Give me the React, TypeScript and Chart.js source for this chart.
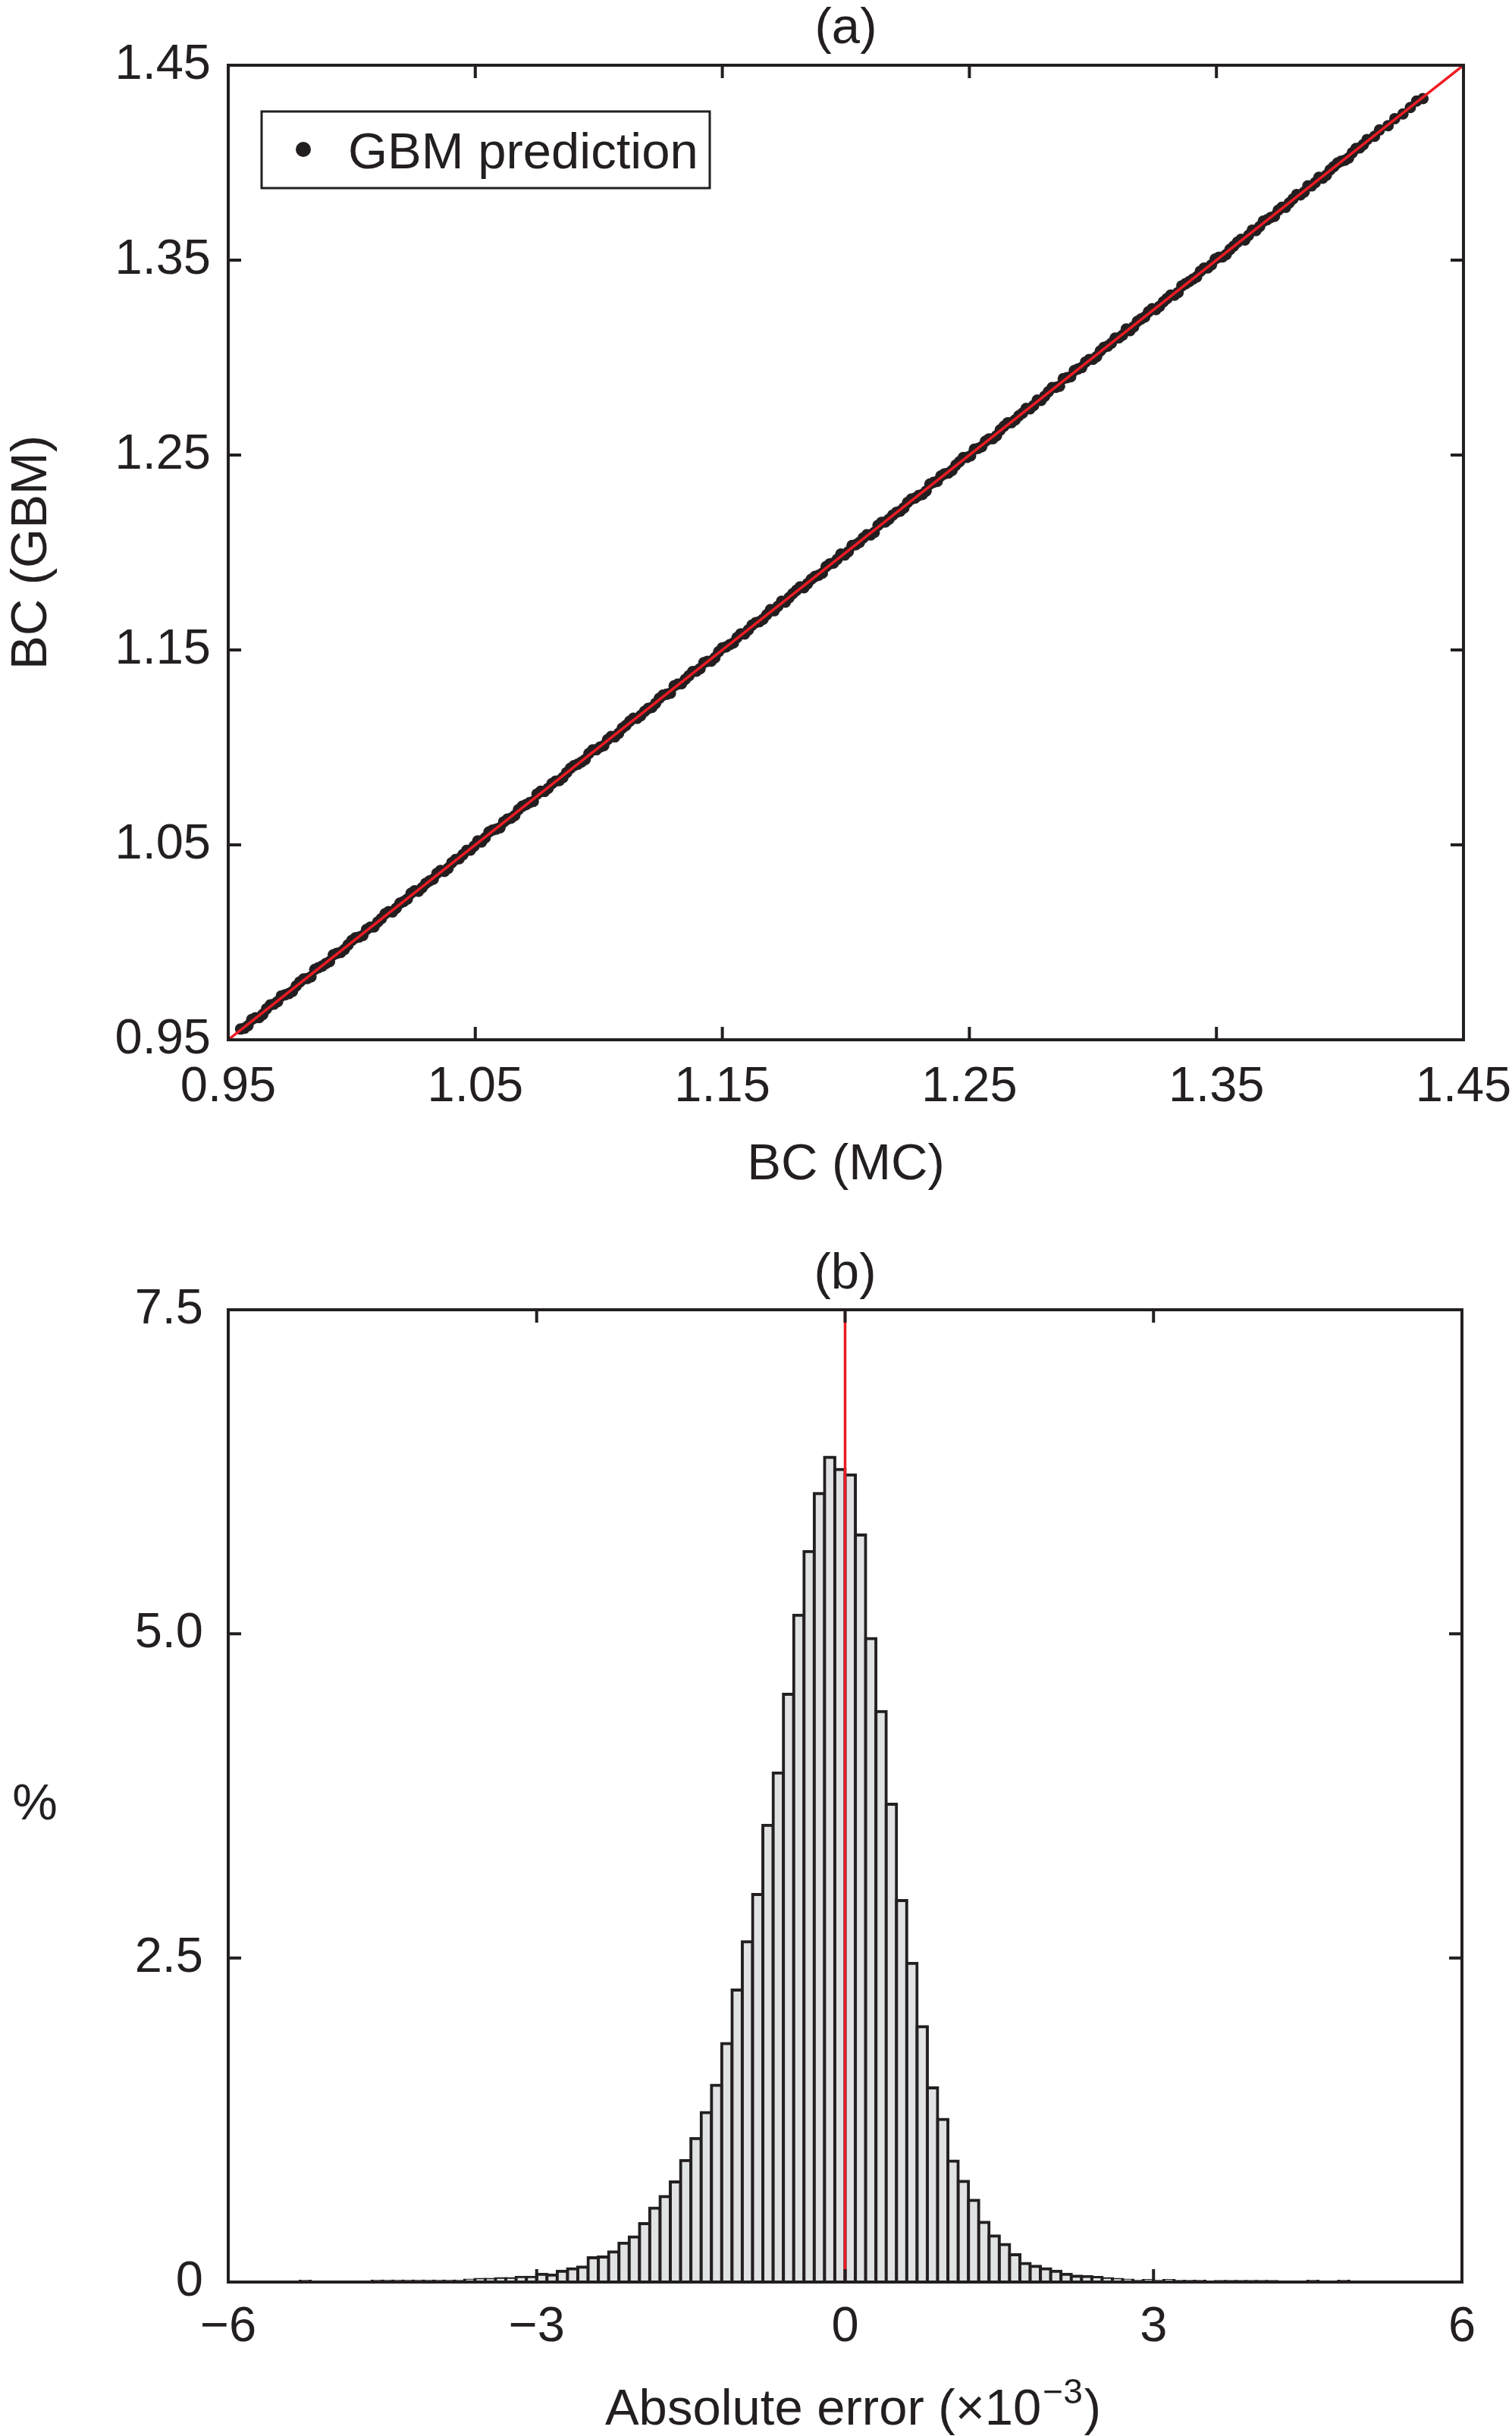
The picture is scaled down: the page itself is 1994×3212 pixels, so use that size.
import React, { useEffect, useRef } from "react";
import { Chart, registerables } from "chart.js";

Chart.register(...registerables);

const INK = "#231f20";
const RED = "#ed1c24";
const BAR_FILL = "#e1e2e4";
const FAM = '"Liberation Sans", Arial, Helvetica, sans-serif';
const TICK_FONT = 65;
const LABEL_FONT = 67;
const TICK_LEN = 17;

// ---------- Panel (a): BC (MC) vs BC (GBM) ----------
const bcMC = [
  0.955, 0.958, 0.961, 0.964, 0.967, 0.970, 0.973, 0.976, 0.979, 0.982,
  0.985, 0.988, 0.991, 0.994, 0.997, 1.000, 1.003, 1.006, 1.009, 1.012,
  1.015, 1.018, 1.021, 1.024, 1.027, 1.030, 1.033, 1.036, 1.039, 1.042,
  1.045, 1.048, 1.051, 1.054, 1.057, 1.060, 1.063, 1.066, 1.069, 1.072,
  1.075, 1.078, 1.081, 1.084, 1.087, 1.090, 1.093, 1.096, 1.099, 1.102,
  1.105, 1.108, 1.111, 1.114, 1.117, 1.120, 1.123, 1.126, 1.129, 1.132,
  1.135, 1.138, 1.141, 1.144, 1.147, 1.150, 1.153, 1.156, 1.159, 1.162,
  1.165, 1.168, 1.171, 1.174, 1.177, 1.180, 1.183, 1.186, 1.189, 1.192,
  1.195, 1.198, 1.201, 1.204, 1.207, 1.210, 1.213, 1.216, 1.219, 1.222,
  1.225, 1.228, 1.231, 1.234, 1.237, 1.240, 1.243, 1.246, 1.249, 1.252,
  1.255, 1.258, 1.261, 1.264, 1.267, 1.270, 1.273, 1.276, 1.279, 1.282,
  1.285, 1.288, 1.291, 1.294, 1.297, 1.300, 1.303, 1.306, 1.309, 1.312,
  1.315, 1.318, 1.321, 1.324, 1.327, 1.330, 1.333, 1.336, 1.339, 1.342,
  1.345, 1.348, 1.351, 1.354, 1.357, 1.360, 1.363, 1.366, 1.369, 1.372,
  1.375, 1.378, 1.381, 1.384, 1.387, 1.390, 1.393, 1.396, 1.399, 1.402,
  1.405, 1.408, 1.411,
  1.414, 1.416, 1.4195, 1.4222, 1.4255, 1.4285, 1.431, 1.4336,
];

const bcGBM = [
  0.9555, 0.9572, 0.9613, 0.9630, 0.9679, 0.9696, 0.9731, 0.9748, 0.9797, 0.9814,
  0.9861, 0.9878, 0.9901, 0.9944, 0.9963, 1.0010, 1.0027, 1.0066, 1.0079, 1.0122,
  1.0158, 1.0175, 1.0209, 1.0252, 1.0262, 1.0303, 1.0324, 1.0369, 1.0380, 1.0425,
  1.0450, 1.0473, 1.0520, 1.0536, 1.0576, 1.0588, 1.0632, 1.0651, 1.0698, 1.0717,
  1.0761, 1.0774, 1.0814, 1.0830, 1.0871, 1.0907, 1.0925, 1.0969, 1.0988, 1.1009,
  1.1056, 1.1072, 1.1113, 1.1150, 1.1163, 1.1200, 1.1226, 1.1268, 1.1278, 1.1325,
  1.1349, 1.1389, 1.1404, 1.1442, 1.1460, 1.1511, 1.1527, 1.1564, 1.1582, 1.1627,
  1.1645, 1.1681, 1.1701, 1.1750, 1.1768, 1.1806, 1.1819, 1.1863, 1.1883, 1.1928,
  1.1946, 1.1992, 1.2004, 1.2040, 1.2075, 1.2090, 1.2139, 1.2157, 1.2192, 1.2212,
  1.2257, 1.2279, 1.2298, 1.2351, 1.2365, 1.2404, 1.2421, 1.2466, 1.2488, 1.2530,
  1.2543, 1.2583, 1.2599, 1.2648, 1.2666, 1.2701, 1.2739, 1.2754, 1.2780, 1.2825,
  1.2847, 1.2892, 1.2902, 1.2942, 1.2977, 1.2991, 1.3034, 1.3059, 1.3100, 1.3115,
  1.3138, 1.3186, 1.3208, 1.3251, 1.3263, 1.3303, 1.3320, 1.3368, 1.3390, 1.3414,
  1.3459, 1.3476, 1.3515, 1.3529, 1.3572, 1.3607, 1.3627, 1.3652, 1.3700, 1.3719,
  1.3756, 1.3771, 1.3814, 1.3835, 1.3881, 1.3898, 1.3920, 1.3963, 1.3998, 1.4013,
  1.4051, 1.4076, 1.4119,
  1.4135, 1.4168, 1.4190, 1.4226, 1.4250, 1.4283, 1.4316, 1.4329,
];

// second, interleaved group of points read along the same band
const bcMCFill = [
  0.9565, 0.9595, 0.9625, 0.9655, 0.9685, 0.9715, 0.9745, 0.9775, 0.9805, 0.9835,
  0.9865, 0.9895, 0.9925, 0.9955, 0.9985, 1.0015, 1.0045, 1.0075, 1.0105, 1.0135,
  1.0165, 1.0195, 1.0225, 1.0255, 1.0285, 1.0315, 1.0345, 1.0375, 1.0405, 1.0435,
  1.0465, 1.0495, 1.0525, 1.0555, 1.0585, 1.0615, 1.0645, 1.0675, 1.0705, 1.0735,
  1.0765, 1.0795, 1.0825, 1.0855, 1.0885, 1.0915, 1.0945, 1.0975, 1.1005, 1.1035,
  1.1065, 1.1095, 1.1125, 1.1155, 1.1185, 1.1215, 1.1245, 1.1275, 1.1305, 1.1335,
  1.1365, 1.1395, 1.1425, 1.1455, 1.1485, 1.1515, 1.1545, 1.1575, 1.1605, 1.1635,
  1.1665, 1.1695, 1.1725, 1.1755, 1.1785, 1.1815, 1.1845, 1.1875, 1.1905, 1.1935,
  1.1965, 1.1995, 1.2025, 1.2055, 1.2085, 1.2115, 1.2145, 1.2175, 1.2205, 1.2235,
  1.2265, 1.2295, 1.2325, 1.2355, 1.2385, 1.2415, 1.2445, 1.2475, 1.2505, 1.2535,
  1.2565, 1.2595, 1.2625, 1.2655, 1.2685, 1.2715, 1.2745, 1.2775, 1.2805, 1.2835,
  1.2865, 1.2895, 1.2925, 1.2955, 1.2985, 1.3015, 1.3045, 1.3075, 1.3105, 1.3135,
  1.3165, 1.3195, 1.3225, 1.3255, 1.3285, 1.3315, 1.3345, 1.3375, 1.3405, 1.3435,
  1.3465, 1.3495, 1.3525, 1.3555, 1.3585, 1.3615, 1.3645, 1.3675, 1.3705, 1.3735,
  1.3765, 1.3795, 1.3825, 1.3855, 1.3885, 1.3915, 1.3945, 1.3975, 1.4005, 1.4035,
  1.4065, 1.4095,
];

const bcGBMFill = [
  0.9559, 0.9604, 0.9614, 0.9659, 0.9683, 0.9725, 0.9737, 0.9776, 0.9812, 0.9823,
  0.9870, 0.9891, 0.9936, 0.9948, 0.9987, 1.0023, 1.0035, 1.0078, 1.0104, 1.0147,
  1.0156, 1.0201, 1.0222, 1.0265, 1.0280, 1.0315, 1.0354, 1.0364, 1.0409, 1.0429,
  1.0472, 1.0493, 1.0515, 1.0566, 1.0581, 1.0618, 1.0637, 1.0681, 1.0706, 1.0723,
  1.0775, 1.0790, 1.0827, 1.0846, 1.0893, 1.0914, 1.0938, 1.0987, 1.1002, 1.1040,
  1.1054, 1.1099, 1.1134, 1.1149, 1.1185, 1.1205, 1.1252, 1.1273, 1.1316, 1.1327,
  1.1368, 1.1391, 1.1435, 1.1443, 1.1491, 1.1516, 1.1536, 1.1583, 1.1602, 1.1640,
  1.1658, 1.1707, 1.1724, 1.1745, 1.1789, 1.1824, 1.1840, 1.1877, 1.1894, 1.1942,
  1.1965, 1.1987, 1.2036, 1.2052, 1.2091, 1.2103, 1.2155, 1.2171, 1.2206, 1.2229,
  1.2274, 1.2293, 1.2315, 1.2360, 1.2393, 1.2408, 1.2448, 1.2487, 1.2496, 1.2534,
  1.2571, 1.2584, 1.2629, 1.2665, 1.2680, 1.2715, 1.2737, 1.2782, 1.2802, 1.2846,
  1.2853, 1.2897, 1.2934, 1.2949, 1.2990, 1.3005, 1.3053, 1.3074, 1.3101, 1.3147,
  1.3158, 1.3198, 1.3235, 1.3246, 1.3286, 1.3321, 1.3334, 1.3379, 1.3403, 1.3443,
  1.3460, 1.3506, 1.3517, 1.3555, 1.3592, 1.3603, 1.3654, 1.3672, 1.3707, 1.3725,
  1.3771, 1.3794, 1.3837, 1.3849, 1.3881, 1.3925, 1.3936, 1.3980, 1.4008, 1.4024,
  1.4073, 1.4093,
];

const identityLine = [0.95, 1.45];
const bcTicks = [0.95, 1.05, 1.15, 1.25, 1.35, 1.45];

// ---------- Panel (b): histogram of absolute error (x10^-3), % ----------
const errorBinCenters = [
  -5.35, -5.25, -5.15, -5.05, -4.95, -4.85, -4.75, -4.65, -4.55, -4.45,
  -4.35, -4.25, -4.15, -4.05, -3.95, -3.85, -3.75, -3.65, -3.55, -3.45,
  -3.35, -3.25, -3.15, -3.05, -2.95, -2.85, -2.75, -2.65, -2.55, -2.45,
  -2.35, -2.25, -2.15, -2.05, -1.95, -1.85, -1.75, -1.65, -1.55, -1.45,
  -1.35, -1.25, -1.15, -1.05, -0.95, -0.85, -0.75, -0.65, -0.55, -0.45,
  -0.35, -0.25, -0.15, -0.05, 0.05, 0.15, 0.25, 0.35, 0.45, 0.55,
  0.65, 0.75, 0.85, 0.95, 1.05, 1.15, 1.25, 1.35, 1.45, 1.55,
  1.65, 1.75, 1.85, 1.95, 2.05, 2.15, 2.25, 2.35, 2.45, 2.55,
  2.65, 2.75, 2.85, 2.95, 3.05, 3.15, 3.25, 3.35, 3.45, 3.55,
  3.65, 3.75, 3.85, 3.95, 4.05, 4.15, 4.25, 4.35, 4.45, 4.55,
  4.65, 4.75, 4.85,
];

const errorPercent = [
  0, 0.006, 0, 0, 0, 0, 0, 0, 0.007, 0.007,
  0.007, 0.007, 0.007, 0.007, 0.007, 0.007, 0.007, 0.015, 0.021, 0.021,
  0.027, 0.027, 0.037, 0.037, 0.06, 0.054, 0.084, 0.103, 0.115, 0.187,
  0.193, 0.232, 0.3, 0.348, 0.45, 0.571, 0.66, 0.772, 0.937, 1.107,
  1.308, 1.518, 1.84, 2.253, 2.625, 2.99, 3.524, 3.927, 4.534, 5.144,
  5.635, 6.083, 6.362, 6.269, 6.226, 5.762, 4.964, 4.401, 3.686, 2.942,
  2.458, 1.97, 1.497, 1.255, 0.933, 0.777, 0.631, 0.46, 0.356, 0.29,
  0.21, 0.144, 0.122, 0.103, 0.084, 0.06, 0.045, 0.041, 0.035, 0.027,
  0.021, 0.015, 0.007, 0.011, 0.007, 0.011, 0.006, 0.006, 0.006, 0,
  0.004, 0.004, 0.004, 0.004, 0.004, 0.004, 0, 0, 0, 0.006,
  0, 0, 0.006,
];

const zeroLineX = [0, 0];
const zeroLineY = [0, 7.5];
const errorTicks = [-6, -3, 0, 3, 6];
const errorTickLabels = ["\u22126", "\u22123", "0", "3", "6"];
const percentTicks = [0, 2.5, 5.0, 7.5];
const percentTickLabels = ["0", "2.5", "5.0", "7.5"];

// ---------- helpers ----------
function zeroPad(s: any) {
  s.paddingLeft = 0;
  s.paddingRight = 0;
  s.paddingTop = 0;
  s.paddingBottom = 0;
}

function axisCommon(ticksArr: number[], labelFn: (v: number) => string, padding: number) {
  return {
    type: "linear",
    offset: false,
    grid: { display: false, drawTicks: false },
    border: { display: false },
    afterBuildTicks: (s: any) => {
      s.ticks = ticksArr.map((v) => ({ value: v }));
    },
    ticks: {
      padding,
      color: INK,
      font: { family: FAM, size: TICK_FONT },
      autoSkip: false,
      maxRotation: 0,
      minRotation: 0,
      callback: (v: any) => labelFn(Number(v)),
    },
  };
}

function framePlugin(drawText: (ctx: CanvasRenderingContext2D, chart: any) => void) {
  return {
    id: "frameAndText",
    afterDraw(chart: any) {
      const ctx: CanvasRenderingContext2D = chart.ctx;
      const { left, right, top, bottom } = chart.chartArea;
      const xs = chart.scales.x;
      const ys = chart.scales.y;
      ctx.save();
      ctx.strokeStyle = INK;
      ctx.lineWidth = 4;
      ctx.lineCap = "butt";
      ctx.beginPath();
      xs.ticks.forEach((t: any) => {
        const px = xs.getPixelForValue(t.value);
        ctx.moveTo(px, bottom);
        ctx.lineTo(px, bottom - TICK_LEN);
        ctx.moveTo(px, top);
        ctx.lineTo(px, top + TICK_LEN);
      });
      ys.ticks.forEach((t: any) => {
        const py = ys.getPixelForValue(t.value);
        ctx.moveTo(left, py);
        ctx.lineTo(left + TICK_LEN, py);
        ctx.moveTo(right, py);
        ctx.lineTo(right - TICK_LEN, py);
      });
      ctx.stroke();
      ctx.strokeRect(left, top, right - left, bottom - top);
      ctx.fillStyle = INK;
      drawText(ctx, chart);
      ctx.restore();
    },
  };
}

export default function App() {
  const refA = useRef<HTMLCanvasElement>(null);
  const refB = useRef<HTMLCanvasElement>(null);

  useEffect(() => {
    // ----- Chart (a) -----
    const textA = (ctx: CanvasRenderingContext2D, chart: any) => {
      const { left, right, top, bottom } = chart.chartArea;
      const cx = (left + right) / 2;
      ctx.font = `${LABEL_FONT}px ${FAM}`;
      ctx.textAlign = "center";
      ctx.textBaseline = "alphabetic";
      ctx.fillText("(a)", cx, top - 29);
      ctx.fillText("BC (MC)", cx, bottom + 184);
      ctx.save();
      ctx.translate(61, (top + bottom) / 2);
      ctx.rotate(-Math.PI / 2);
      ctx.fillText("BC (GBM)", 0, 0);
      ctx.restore();
      // legend box
      const label = chart.data.datasets[1].label;
      ctx.lineWidth = 3;
      ctx.strokeRect(345, 147, 591, 101);
      ctx.beginPath();
      ctx.arc(400, 197, 10, 0, Math.PI * 2);
      ctx.fill();
      ctx.textAlign = "left";
      ctx.fillText(label, 459, 222);
    };

    const scatterPoints = bcMC
      .map((x, i) => ({ x, y: bcGBM[i] }))
      .concat(bcMCFill.map((x, i) => ({ x, y: bcGBMFill[i] })));

    const chartA = new Chart(refA.current as HTMLCanvasElement, {
      type: "scatter",
      data: {
        datasets: [
          {
            label: "Identity",
            data: identityLine.map((v) => ({ x: v, y: v })),
            showLine: true,
            borderColor: RED,
            borderWidth: 3.5,
            pointRadius: 0,
            order: 0,
          } as any,
          {
            label: "GBM prediction",
            data: scatterPoints,
            backgroundColor: INK,
            borderColor: INK,
            pointRadius: 7.5,
            pointBorderWidth: 0,
            order: 1,
          } as any,
        ],
      },
      options: {
        responsive: false,
        animation: false,
        devicePixelRatio: 1,
        events: [],
        layout: { padding: { top: 86, right: 64, left: 0, bottom: 0 } },
        plugins: {
          legend: { display: false },
          title: { display: false },
          tooltip: { enabled: false },
        },
        scales: {
          x: {
            ...axisCommon(bcTicks, (v) => v.toFixed(2), 24),
            min: 0.95,
            max: 1.45,
            afterFit: (s: any) => {
              s.height = 1600 - 1371;
              zeroPad(s);
            },
          },
          y: {
            ...axisCommon(bcTicks, (v) => v.toFixed(2), 23),
            min: 0.95,
            max: 1.45,
            afterFit: (s: any) => {
              s.width = 301;
              zeroPad(s);
            },
          },
        } as any,
      },
      plugins: [framePlugin(textA) as any],
    } as any);

    // ----- Chart (b) -----
    const textB = (ctx: CanvasRenderingContext2D, chart: any) => {
      const { left, right, top } = chart.chartArea;
      const cx = (left + right) / 2;
      ctx.font = `${LABEL_FONT}px ${FAM}`;
      ctx.textAlign = "center";
      ctx.textBaseline = "alphabetic";
      ctx.fillText("(b)", cx, top - 28);
      ctx.textBaseline = "middle";
      ctx.fillText("%", 46, 781);
      ctx.textBaseline = "alphabetic";
      // x title with superscript
      const main = "Absolute error (\u00d710";
      const sup = "\u22123";
      const tail = ")";
      ctx.font = `${LABEL_FONT}px ${FAM}`;
      const w1 = ctx.measureText(main).width;
      const w3 = ctx.measureText(tail).width;
      ctx.font = `${Math.round(LABEL_FONT * 0.68)}px ${FAM}`;
      const w2 = ctx.measureText(sup).width;
      const start = 1123 - (w1 + w2 + w3) / 2;
      const base = 1597;
      ctx.textAlign = "left";
      ctx.font = `${LABEL_FONT}px ${FAM}`;
      ctx.fillText(main, start, base);
      ctx.font = `${Math.round(LABEL_FONT * 0.68)}px ${FAM}`;
      ctx.fillText(sup, start + w1 + 2, base - 28);
      ctx.font = `${LABEL_FONT}px ${FAM}`;
      ctx.fillText(tail, start + w1 + w2 + 4, base);
    };

    const chartB = new Chart(refB.current as HTMLCanvasElement, {
      type: "bar",
      data: {
        datasets: [
          {
            type: "line",
            label: "Zero error",
            data: zeroLineX.map((x, i) => ({ x, y: zeroLineY[i] })),
            borderColor: RED,
            borderWidth: 3.5,
            pointRadius: 0,
            fill: false,
            order: 0,
          } as any,
          {
            type: "bar",
            label: "%",
            data: errorBinCenters.map((x, i) => ({ x, y: errorPercent[i] })),
            backgroundColor: BAR_FILL,
            borderColor: INK,
            borderWidth: 4,
            inflateAmount: 2,
            barPercentage: 1,
            categoryPercentage: 1,
            borderSkipped: "start",
            order: 1,
          } as any,
        ],
      },
      options: {
        responsive: false,
        animation: false,
        devicePixelRatio: 1,
        events: [],
        layout: { padding: { top: 127, right: 66, left: 0, bottom: 0 } },
        plugins: {
          legend: { display: false },
          title: { display: false },
          tooltip: { enabled: false },
        },
        scales: {
          x: {
            ...axisCommon(errorTicks, (v) => errorTickLabels[errorTicks.indexOf(Math.round(v))] ?? String(v), 21),
            min: -6,
            max: 6,
            afterFit: (s: any) => {
              s.height = 1612 - 1409;
              zeroPad(s);
            },
          },
          y: {
            ...axisCommon(percentTicks, (v) => {
              const i = percentTicks.findIndex((p) => Math.abs(p - v) < 1e-6);
              return i >= 0 ? percentTickLabels[i] : String(v);
            }, 33),
            min: 0,
            max: 7.5,
            beginAtZero: true,
            afterFit: (s: any) => {
              s.width = 301;
              zeroPad(s);
            },
          },
        } as any,
      },
      plugins: [framePlugin(textB) as any],
    } as any);

    return () => {
      chartA.destroy();
      chartB.destroy();
    };
  }, []);

  return (
    <div
      style={{
        position: "absolute",
        left: 0,
        top: 0,
        width: 1994,
        height: 3212,
        background: "#ffffff",
      }}
    >
      <canvas
        ref={refA}
        width={1994}
        height={1600}
        style={{ position: "absolute", left: 0, top: 0, width: 1994, height: 1600 }}
      />
      <canvas
        ref={refB}
        width={1994}
        height={1612}
        style={{ position: "absolute", left: 0, top: 1600, width: 1994, height: 1612 }}
      />
    </div>
  );
}
